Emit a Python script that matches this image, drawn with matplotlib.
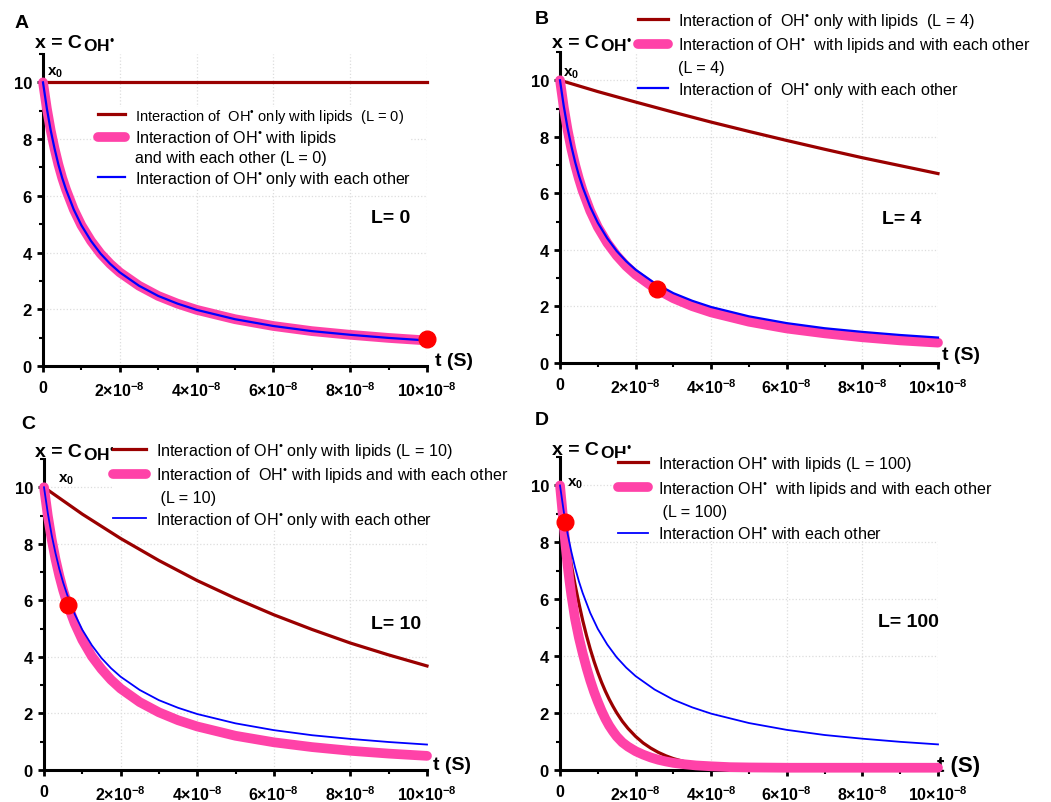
import numpy as np
import matplotlib
matplotlib.use('Agg')
import matplotlib.pyplot as plt
from matplotlib.lines import Line2D
from matplotlib.ticker import MultipleLocator

plt.rcParams['font.family'] = ['Liberation Sans', 'DejaVu Sans']
plt.rcParams['mathtext.fontset'] = 'custom'
plt.rcParams['mathtext.rm'] = 'Liberation Sans'
plt.rcParams['mathtext.it'] = 'Liberation Sans:italic'
plt.rcParams['mathtext.bf'] = 'Liberation Sans:bold'

# time axis in units of 1e-8 s
t_main = [0, 0.1, 0.2, 0.3, 0.4, 0.5, 0.6, 0.8, 1.0, 1.25, 1.5, 1.75, 2, 2.5, 3, 3.5, 4, 5, 6, 7, 8, 9, 10]
t_lip = [0, 1, 2, 3, 4, 5, 6, 7, 8, 9, 10]
t_fast = [0, 0.05, 0.1, 0.15, 0.2, 0.25, 0.3, 0.4, 0.5, 0.6, 0.7, 0.8, 0.9, 1.0, 1.1, 1.2, 1.3, 1.4, 1.5,
          1.65, 1.8, 2.0, 2.2, 2.4, 2.6, 2.8, 3.0, 3.3, 3.6, 4.0, 4.5, 5, 6, 7, 8, 10]

# OH only with each other (same in every panel)
x_each = [10, 9.08, 8.31, 7.67, 7.11, 6.63, 6.22, 5.52, 4.96, 4.41, 3.96, 3.60, 3.30, 2.83, 2.47, 2.20, 1.98, 1.65, 1.41, 1.23, 1.10, 0.99, 0.90]

# panel A, L = 0
x_lip_A = [10, 10, 10, 10, 10, 10, 10, 10, 10, 10, 10]
x_both_A = [10, 9.08, 8.31, 7.67, 7.11, 6.63, 6.22, 5.52, 4.96, 4.41, 3.96, 3.60, 3.30, 2.83, 2.47, 2.20, 1.98, 1.65, 1.41, 1.23, 1.10, 0.99, 0.90]
dot_A = [10, 0.95]

# panel B, L = 4
x_lip_B = [10, 9.6, 9.23, 8.87, 8.52, 8.19, 7.87, 7.56, 7.26, 6.98, 6.7]
x_both_B = [10, 9.04, 8.25, 7.58, 7.01, 6.52, 6.09, 5.38, 4.81, 4.25, 3.80, 3.43, 3.13, 2.65, 2.29, 2.01, 1.79, 1.46, 1.22, 1.05, 0.91, 0.80, 0.72]
dot_B = [2.57, 2.63]

# panel C, L = 10
x_lip_C = [10, 9.05, 8.19, 7.41, 6.70, 6.07, 5.49, 4.97, 4.49, 4.07, 3.68]
x_both_C = [10, 8.99, 8.16, 7.46, 6.87, 6.36, 5.92, 5.19, 4.60, 4.02, 3.57, 3.19, 2.88, 2.40, 2.04, 1.76, 1.54, 1.21, 0.98, 0.81, 0.68, 0.58, 0.50]
dot_C = [0.62, 5.82]

# panel D, L = 100
x_lip_D = [10, 9.45, 8.95, 8.5, 8.05, 7.63, 7.2, 6.5, 5.86, 5.26, 4.73, 4.25, 3.82, 3.43, 3.08, 2.77, 2.49, 2.24, 2.01,
           1.71, 1.46, 1.18, 0.95, 0.77, 0.62, 0.5, 0.40, 0.29, 0.21, 0.14, 0.09, 0.07, 0.06, 0.06, 0.06, 0.06]
x_both_D = [10, 9.3, 8.55, 7.85, 7.2, 6.65, 6.15, 5.3, 4.65, 4.1, 3.6, 3.15, 2.75, 2.4, 2.08, 1.8, 1.56, 1.36, 1.18,
            0.97, 0.82, 0.66, 0.54, 0.44, 0.36, 0.30, 0.25, 0.2, 0.16, 0.13, 0.1, 0.09, 0.08, 0.08, 0.08, 0.08]
dot_D = [0.13, 8.72]

xtick_vals = [0, 2, 4, 6, 8, 10]
xtick_labels = ['0', r'$\mathbf{2{\times}10^{-8}}$', r'$\mathbf{4{\times}10^{-8}}$',
                r'$\mathbf{6{\times}10^{-8}}$', r'$\mathbf{8{\times}10^{-8}}$', r'$\mathbf{10{\times}10^{-8}}$']
ytick_vals = [0, 2, 4, 6, 8, 10]

c_lip = '#9A0000'
c_both = '#FF42A8'
c_each = '#0000FF'
OH = r'OH$^{•}$'

W, H = 1051, 803
fig = plt.figure(figsize=(W / 100, H / 100), dpi=100)


def fx(p):
    return p / W


def fy(p):
    return 1 - p / H


def setup(ax):
    ax.set_xlim(0, 10)
    ax.set_ylim(0, 11)
    for s in ['top', 'right']:
        ax.spines[s].set_visible(False)
    for s in ['left', 'bottom']:
        ax.spines[s].set_linewidth(2.2)
    ax.set_xticks(xtick_vals)
    ax.set_xticklabels(xtick_labels, fontsize=11.5, fontweight='bold')
    ax.set_yticks(ytick_vals)
    ax.set_yticklabels([str(v) for v in ytick_vals], fontsize=12, fontweight='bold')
    ax.xaxis.set_minor_locator(MultipleLocator(1))
    ax.yaxis.set_minor_locator(MultipleLocator(1))
    ax.tick_params(which='major', direction='out', length=4, width=2, pad=4)
    ax.tick_params(axis='x', which='major', pad=6)
    ax.tick_params(which='minor', direction='out', length=3, width=1.5)
    ax.grid(True, which='major', color='#DDDDDD', linestyle=':', linewidth=0.9)
    ax.set_axisbelow(True)


def title(ax, left, base):
    t1 = fig.text(fx(left), fy(base), 'x = C', fontsize=14, fontweight='bold', va='baseline', ha='left')
    ax.annotate(r'$\mathbf{OH}^{•}$', xy=(1, 0), xycoords=t1, xytext=(1, 0), textcoords='offset points',
                fontsize=12.5, va='baseline', ha='left', annotation_clip=False)


def panel(rect, t_l, x_l, t_b, x_b, x_e, dot, lw_e):
    ax = fig.add_axes(rect)
    setup(ax)
    l1, = ax.plot(t_l, x_l, color=c_lip, lw=2.3, zorder=3, clip_on=False)
    l2, = ax.plot(t_b, x_b, color=c_both, lw=7, zorder=4, clip_on=False, solid_capstyle='round')
    l3, = ax.plot(t_main, x_e, color=c_each, lw=lw_e, zorder=5, clip_on=False)
    ax.plot(dot[0], dot[1], 'o', ms=12, color='#FF0000', zorder=6, clip_on=False)
    return ax, l1, l2, l3


def legend(ax, handles, labels, sizes, left, top, hl, spacing):
    blank = Line2D([], [], color='none')
    hs = [h if h is not None else blank for h in handles]
    leg = ax.legend(hs, labels, loc='upper left', bbox_to_anchor=(fx(left), fy(top)),
                    bbox_transform=fig.transFigure, frameon=True, facecolor='white',
                    edgecolor='none', framealpha=1, borderpad=0, borderaxespad=0,
                    handlelength=hl, handletextpad=0.62, labelspacing=spacing,
                    prop={'family': 'Liberation Sans', 'size': 11.6})
    for txt, s in zip(leg.get_texts(), sizes):
        txt.set_fontsize(s)
    leg.set_zorder(10)


# ---------- A ----------
axA, a1, a2, a3 = panel([fx(43), fy(367), fx(384), 312 / H], t_lip, x_lip_A, t_main, x_both_A, x_each, dot_A, 1.6)
legend(axA, [a1, a2, None, a3],
       ['Interaction of  ' + OH + ' only with lipids  (L = 0)',
        'Interaction of ' + OH + ' with lipids',
        'and with each other (L = 0)',
        'Interaction of ' + OH + ' only with each other'],
       [10.5, 11.6, 11.6, 11.6], 98, 108, 1.68, 0.2)
axA.text(9.04, 5.25, 'L= 0', fontsize=14, fontweight='bold', ha='center', va='center')
axA.text(0.1, 10.39, r'$\mathbf{x_0}$', fontsize=11, ha='left', va='center')
axA.text(10.2, 0.18, 't (S)', fontsize=14, fontweight='bold', ha='left', va='center', clip_on=False)
title(axA, 35, 48)
fig.text(fx(22), fy(23), 'A', fontsize=14, fontweight='bold', ha='center', va='center')

# ---------- B ----------
axB, b1, b2, b3 = panel([fx(560), fy(364), fx(378), 311 / H], t_lip, x_lip_B, t_main, x_both_B, x_each, dot_B, 1.6)
legend(axB, [b1, b2, None, b3],
       ['Interaction of  ' + OH + ' only with lipids  (L = 4)',
        'Interaction of ' + OH + '  with lipids and with each other',
        '(L = 4)',
        'Interaction of  ' + OH + ' only with each other'],
       [11.6, 11.6, 11.6, 11.6], 638, 12, 1.86, 0.33)
axB.text(9.05, 5.12, 'L= 4', fontsize=14, fontweight='bold', ha='center', va='center')
axB.text(0.08, 10.25, r'$\mathbf{x_0}$', fontsize=11, ha='left', va='center')
axB.text(10.1, 0.29, 't (S)', fontsize=14, fontweight='bold', ha='left', va='center', clip_on=False)
title(axB, 552, 48)
fig.text(fx(542), fy(20), 'B', fontsize=14, fontweight='bold', ha='center', va='center')

# ---------- C ----------
axC, c1, c2, c3 = panel([fx(44), fy(771), fx(383), 311 / H], t_lip, x_lip_C, t_main, x_both_C, x_each, dot_C, 1.3)
legend(axC, [c1, c2, None, c3],
       ['Interaction of ' + OH + ' only with lipids (L = 10)',
        'Interaction of  ' + OH + ' with lipids and with each other',
        ' (L = 10)',
        'Interaction of ' + OH + ' only with each other'],
       [11.6, 11.6, 11.6, 11.6], 113, 442, 2.05, 0.33)
axC.text(9.19, 5.18, 'L= 10', fontsize=14, fontweight='bold', ha='center', va='center')
axC.text(0.37, 10.3, r'$\mathbf{x_0}$', fontsize=11, ha='left', va='center')
axC.text(10.16, 0.19, 't (S)', fontsize=14, fontweight='bold', ha='left', va='center', clip_on=False)
title(axC, 35, 457)
fig.text(fx(28), fy(425), 'C', fontsize=14, fontweight='bold', ha='center', va='center')

# ---------- D ----------
axD, d1, d2, d3 = panel([fx(560), fy(771), fx(378), 313 / H], t_fast, x_lip_D, t_fast, x_both_D, x_each, dot_D, 1.3)
legend(axD, [d1, d2, None, d3],
       ['Interaction ' + OH + ' with lipids (L = 100)',
        'Interaction ' + OH + '  with lipids and with each other',
        ' (L = 100)',
        'Interaction ' + OH + ' with each other'],
       [11.6, 11.6, 11.6, 11.6], 618, 455, 1.86, 0.38)
axD.text(9.23, 5.23, 'L= 100', fontsize=14, fontweight='bold', ha='center', va='center')
axD.text(0.18, 10.1, r'$\mathbf{x_0}$', fontsize=11, ha='left', va='center')
axD.text(9.97, 0.15, 't (S)', fontsize=16, fontweight='bold', ha='left', va='center', clip_on=False)
title(axD, 552, 455)
fig.text(fx(542), fy(421), 'D', fontsize=14, fontweight='bold', ha='center', va='center')

fig.savefig('out.png', dpi=100, facecolor='white')
